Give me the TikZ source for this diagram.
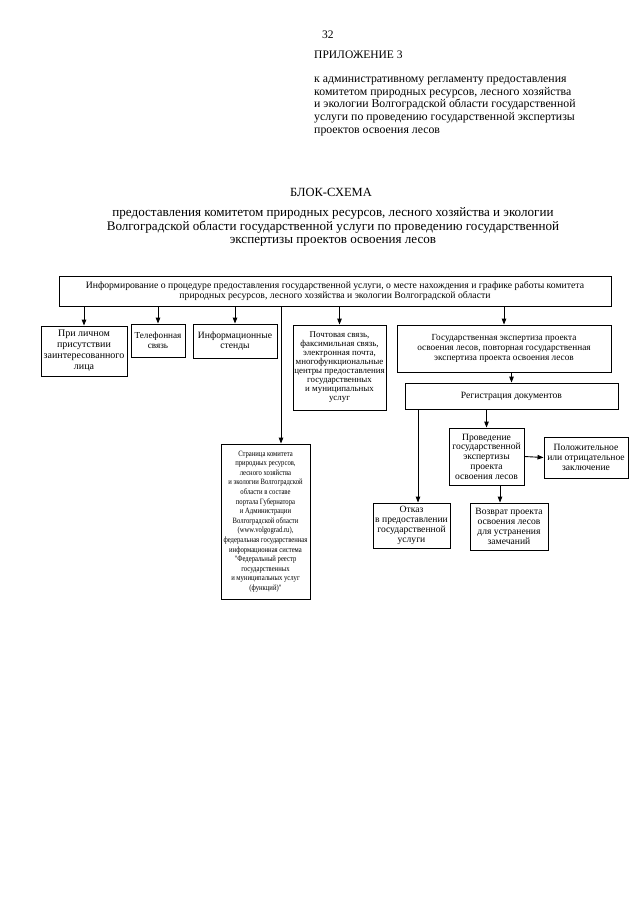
\documentclass[tikz,border=0pt]{standalone}
\usepackage{fontspec}
\setmainfont{Liberation Serif}
\newfontfamily\narrowserif[FakeStretch=0.82]{Liberation Serif}
\usetikzlibrary{arrows.meta,positioning,calc}

\begin{document}
\begin{tikzpicture}[x=1pt, y=-1pt,
    blk/.style={draw, line width=0.9pt, align=center, inner sep=1pt,
      font=\fontsize{9.6}{10}\selectfont},
    arr/.style={-{Triangle[length=6pt,width=4.5pt]}, line width=0.9pt}]
  \useasboundingbox (0,0) rectangle (640,905);

  % header
  \node[anchor=west, inner sep=0, font=\fontsize{11.5}{13}\selectfont] (pagenum) at (322,35) {32};
  \node[anchor=west, inner sep=0, font=\fontsize{11.5}{13}\selectfont] (annex) at (314,55) {ПРИЛОЖЕНИЕ 3};
  \node[anchor=north west, align=left, inner sep=0, font=\fontsize{11.8}{12.6}\selectfont] (annexto) at (314,77)
    {к административному регламенту предоставления\\
     комитетом природных ресурсов, лесного хозяйства\\
     и экологии Волгоградской области государственной\\
     услуги по проведению государственной экспертизы\\
     проектов освоения лесов};

  \node[inner sep=0, font=\fontsize{12.5}{13}\selectfont] (title) at (331,192) {БЛОК-СХЕМА};
  \node[align=center, inner sep=0, font=\fontsize{13.1}{13.5}\selectfont] (subtitle) at (333,227)
    {предоставления комитетом природных ресурсов, лесного хозяйства и экологии\\
     Волгоградской области государственной услуги по проведению государственной\\
     экспертизы проектов освоения лесов};

  % blocks
  \node[blk, minimum width=552, minimum height=30, font=\fontsize{9.7}{10.5}\selectfont] (info) at (335,291)
    {Информирование о процедуре предоставления государственной услуги, о месте нахождения и графике работы комитета\\
     природных ресурсов, лесного хозяйства и экологии Волгоградской области};

  \node[blk, minimum width=86, minimum height=50, font=\fontsize{10}{11}\selectfont] (personal) at (84,351)
    {При личном\\ присутствии\\ заинтересованного\\ лица};
  \node[blk, minimum width=54, minimum height=33, font=\fontsize{9.2}{10}\selectfont] (phone) at (158,340.5)
    {Телефонная\\ связь};
  \node[blk, minimum width=84, minimum height=34] (stands) at (235,341)
    {Информационные\\ стенды};
  \node[blk, minimum width=93, minimum height=85, font=\fontsize{8.9}{9}\selectfont] (post) at (339.5,367.5)
    {Почтовая связь,\\ факсимильная связь,\\ электронная почта,\\ многофункциональные\\
     центры предоставления\\ государственных\\ и муниципальных\\ услуг};
  \node[blk, minimum width=214, minimum height=47, font=\fontsize{9.3}{10}\selectfont] (expert) at (504,348.5)
    {Государственная экспертиза проекта\\ освоения лесов, повторная государственная\\
     экспертиза проекта освоения лесов};
  \node[blk, minimum width=213, minimum height=26] (reg) at (511.5,396)
    {Регистрация документов};

  \node[blk, minimum width=89, minimum height=155, font=\narrowserif\fontsize{8.1}{9.6}\selectfont] (web) at (265.5,521.5)
    {Страница комитета\\ природных ресурсов,\\ лесного хозяйства\\ и экологии Волгоградской\\
     области в составе\\ портала Губернатора\\ и Администрации\\ Волгоградской области\\
     (www.volgograd.ru),\\ федеральная государственная\\ информационная система\\
     "Федеральный реестр\\ государственных\\ и муниципальных услуг\\ (функций)"};

  \node[blk, minimum width=75, minimum height=57, font=\fontsize{9.6}{9.8}\selectfont] (conduct) at (486.5,456.5)
    {Проведение\\ государственной\\ экспертизы\\ проекта\\ освоения лесов};
  \node[blk, minimum width=84, minimum height=41] (result) at (586,457.5)
    {Положительное\\ или отрицательное\\ заключение};
  \node[blk, minimum width=77, minimum height=45] (refusal) at (411.5,525.5)
    {Отказ\\ в предоставлении\\ государственной\\ услуги};
  \node[blk, minimum width=78, minimum height=47] (return) at (509,526.5)
    {Возврат проекта\\ освоения лесов\\ для устранения\\ замечаний};

  % connectors
  \coordinate (webtap) at (281,0);
  \coordinate (refusaltap) at (418,0);
  \coordinate (returntap) at (500,0);

  \draw[arr] (info.south -| personal.north) -- (personal.north);
  \draw[arr] (info.south -| phone.north) -- (phone.north);
  \draw[arr] (info.south -| stands.north) -- (stands.north);
  \draw[arr] (info.south -| webtap) -- (web.north -| webtap);
  \draw[arr] (info.south -| post.north) -- (post.north);
  \draw[arr] (info.south -| expert.north) -- (expert.north);
  \draw[arr] (expert.south -| reg.north) -- (reg.north);
  \draw[arr] (reg.south -| refusaltap) -- (refusal.north -| refusaltap);
  \draw[arr] (reg.south -| conduct.north) -- (conduct.north);
  \draw[arr] (conduct.east) -- (result.west);
  \draw[arr] (conduct.south -| returntap) -- (return.north -| returntap);
\end{tikzpicture}
\end{document}
